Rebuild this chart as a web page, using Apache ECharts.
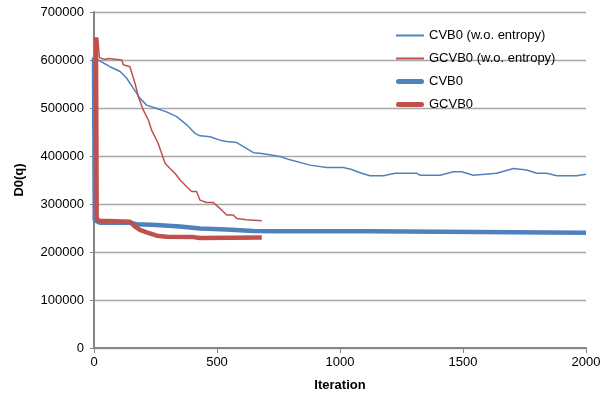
<!DOCTYPE html>
<html>
<head>
<meta charset="utf-8">
<script src="https://cdn.jsdelivr.net/npm/echarts@6/dist/echarts.min.js"></script>
<style>
  html, body { margin: 0; padding: 0; background: #fff; }
  #chart { width: 611px; height: 403px; }
</style>
</head>
<body>
<div id="chart"></div>
<script>
// series names (legend order)
const names = ['CVB0 (w.o. entropy)', 'GCVB0 (w.o. entropy)', 'CVB0', 'GCVB0'];

// CVB0 w.o. entropy (thin blue)
const cvbWoX = [2, 17, 65, 106, 133, 160, 187, 214, 255, 295, 336, 377, 411, 431, 472, 512, 539, 580, 620, 648, 682, 756,
  797, 878, 946, 1014, 1047, 1088, 1122, 1176, 1224, 1312, 1325, 1407, 1461, 1495, 1542, 1637, 1705, 1759, 1800, 1840, 1881, 1962, 2000];
const cvbWoY = [605000, 600000, 586000, 576000, 562000, 541000, 520000, 506000, 499000, 492000, 482000, 465000, 447000, 442000, 440000, 433000, 430000, 428000, 416000, 407000, 405000, 399000,
  392000, 381000, 376000, 376000, 372000, 364000, 359000, 359000, 364000, 364000, 360000, 360000, 367000, 367000, 360000, 364000, 374000, 371000, 364000, 364000, 359000, 359000, 362000];

// GCVB0 w.o. entropy (thin red)
const gcvbWoX = [0, 5, 15, 22, 45, 58, 113, 119, 146, 153, 167, 180, 200, 221, 234, 248, 261, 275, 289, 309, 329, 350, 377, 397, 417, 431, 458, 485, 505, 526, 539, 566, 580, 620, 682];
const gcvbWoY = [640000, 646000, 646000, 605000, 601000, 603000, 600000, 590000, 586000, 583000, 551000, 524000, 496000, 475000, 454000, 440000, 426000, 405000, 385000, 374000, 364000, 350000, 336000, 326000, 326000, 308000, 303000, 303000, 294000, 284000, 277000, 277000, 270000, 267000, 265000];

// CVB0 (thick blue)
const cvbX = [0, 3, 24, 146, 173, 255, 350, 431, 539, 648, 756, 1115, 1116, 2000];
const cvbY = [605000, 266000, 261000, 261000, 258000, 256000, 253000, 249000, 247000, 244000, 243000, 243000, 240000, 240000];

// GCVB0 (thick red)
const gcvbX = [3, 8, 11, 24, 146, 167, 187, 214, 255, 295, 404, 431, 682];
const gcvbY = [640000, 645000, 268000, 265000, 263000, 253000, 246000, 241000, 234000, 232000, 231000, 229000, 230000];

const blue = '#4f81bd';
const red = '#c0504d';

function pairs(xs, ys) { return xs.map((x, i) => [x, ys[i]]); }

function line(name, xs, ys, color, width) {
  return {
    name: name,
    type: 'line',
    data: pairs(xs, ys),
    symbol: 'none',
    smooth: false,
    lineStyle: { color: color, width: width },
    itemStyle: { color: color },
    animation: false
  };
}

const thinIcon = 'path://M0,0 L28,0 L28,2 L0,2 Z';
const thickIcon = 'path://M2.5,0 L25.5,0 A2.5,2.5 0 0 1 25.5,5 L2.5,5 A2.5,2.5 0 0 1 2.5,0 Z';

const chart = echarts.init(document.getElementById('chart'), null, { renderer: 'canvas' });
chart.setOption({
  backgroundColor: '#fff',
  textStyle: { fontFamily: 'Liberation Sans, Arial, sans-serif' },
  grid: { left: 94, right: 25, top: 12, bottom: 55 },
  legend: {
    orient: 'vertical',
    left: 391,
    top: 24,
    itemGap: 10,
    itemWidth: 28,
    itemHeight: 14,
    symbolKeepAspect: true,
    textStyle: { fontSize: 13, color: '#000' },
    data: [
      { name: names[0], icon: thinIcon, itemStyle: { color: blue } },
      { name: names[1], icon: thinIcon, itemStyle: { color: red } },
      { name: names[2], icon: thickIcon, itemStyle: { color: blue } },
      { name: names[3], icon: thickIcon, itemStyle: { color: red } }
    ]
  },
  xAxis: {
    type: 'value',
    min: 0, max: 2000, interval: 500,
    name: 'Iteration',
    nameLocation: 'middle',
    nameGap: 31,
    nameTextStyle: { fontWeight: 'bold', fontSize: 13, color: '#000' },
    axisLine: { lineStyle: { color: '#868686', width: 2 } },
    axisTick: { show: true, length: 5, lineStyle: { color: '#868686' } },
    axisLabel: { fontSize: 13, color: '#000', margin: 8, formatter: v => String(v) },
    splitLine: { show: false }
  },
  yAxis: {
    type: 'value',
    min: 0, max: 700000, interval: 100000,
    name: 'D0(q)',
    nameLocation: 'middle',
    nameGap: 68,
    nameTextStyle: { fontWeight: 'bold', fontSize: 13, color: '#000' },
    axisLine: { show: true, lineStyle: { color: '#868686', width: 2 } },
    axisTick: { show: true, length: 4, lineStyle: { color: '#868686' } },
    axisLabel: { fontSize: 13, color: '#000', margin: 10, formatter: v => String(v) },
    splitLine: { show: true, lineStyle: { color: '#a8a8a8', width: 1.3 } }
  },
  series: [
    line(names[0], cvbWoX, cvbWoY, blue, 1.5),
    line(names[1], gcvbWoX, gcvbWoY, red, 1.5),
    line(names[2], cvbX, cvbY, blue, 4.5),
    line(names[3], gcvbX, gcvbY, red, 4.5)
  ]
});
</script>
</body>
</html>
